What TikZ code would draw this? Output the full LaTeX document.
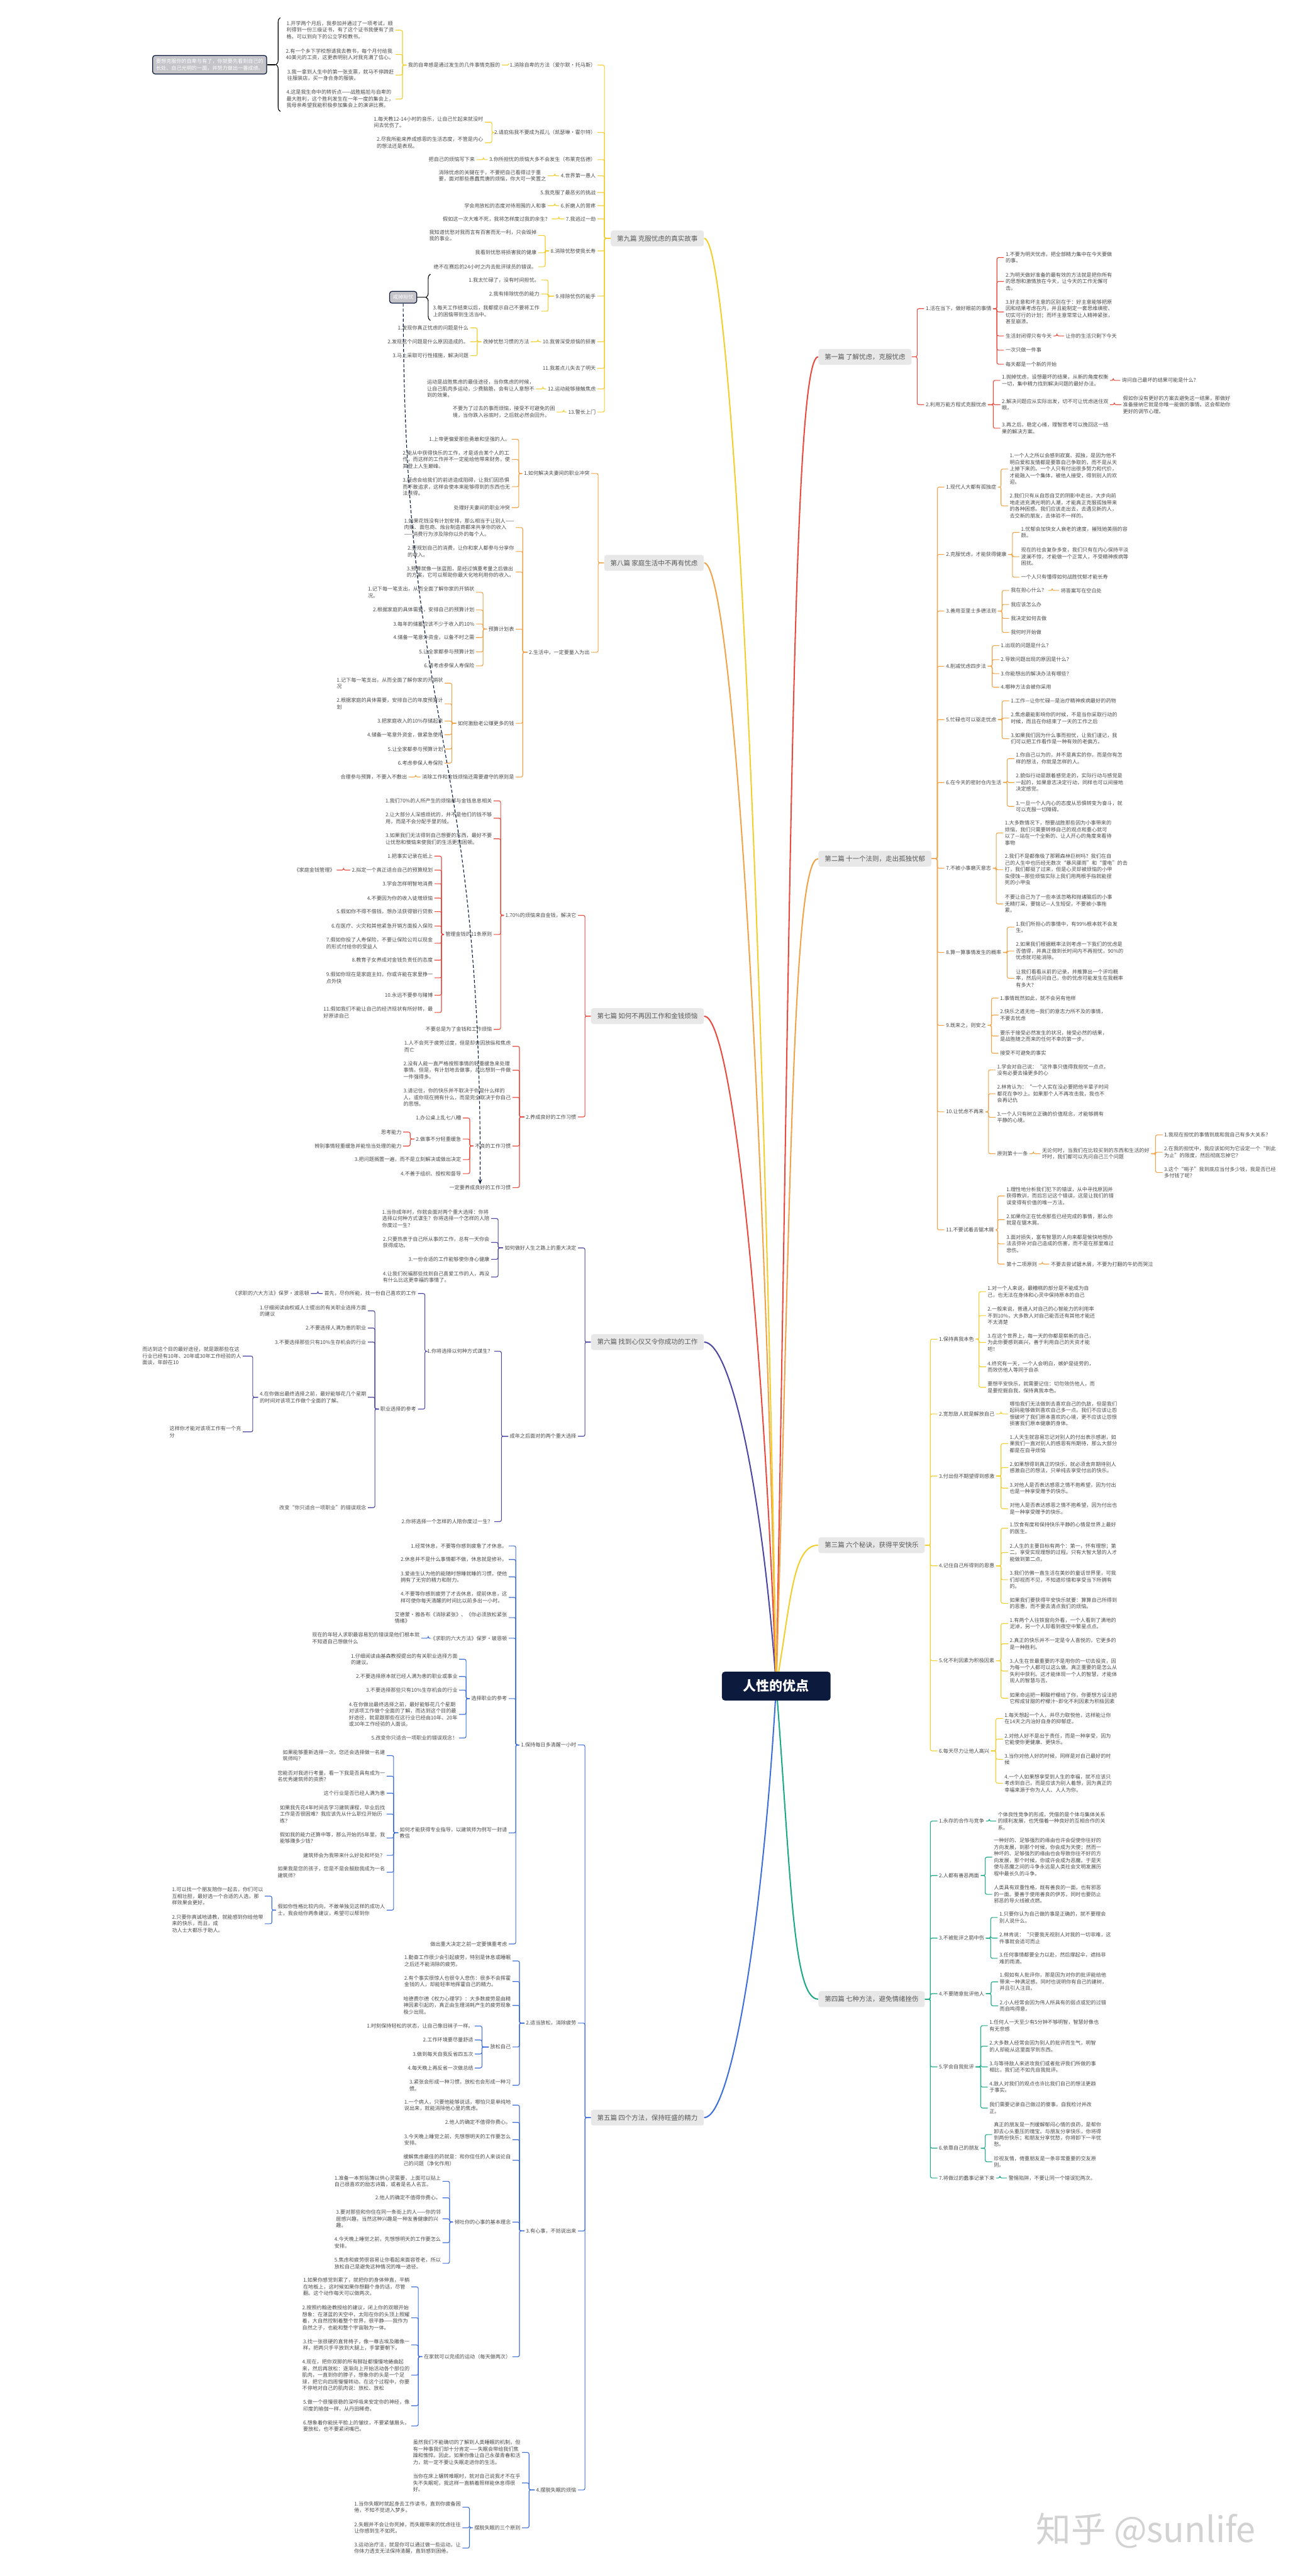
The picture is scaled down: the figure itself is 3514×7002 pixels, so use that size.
\documentclass[tikz,border=0pt]{standalone}
\usepackage{fontspec}
\newfontfamily\cjk{Noto Sans CJK SC}
\usetikzlibrary{arrows.meta,backgrounds,decorations.pathreplacing}

\definecolor{ink}{HTML}{4A4A4A}
\definecolor{partfill}{HTML}{E8E8E8}
\definecolor{parttext}{HTML}{595959}
\definecolor{rootfill}{HTML}{0C1A3E}
\definecolor{sumfill}{HTML}{C4C4C9}
\definecolor{wmgray}{HTML}{D2D2D2}
\definecolor{cred}{HTML}{E84B3F}
\definecolor{corange}{HTML}{F0A449}
\definecolor{cyellow}{HTML}{F2CE2E}
\definecolor{cteal}{HTML}{1DA887}
\definecolor{cblue}{HTML}{3F6FDB}
\definecolor{cindigo}{HTML}{4C47A2}

\tikzset{
  leaf/.style={align=left, text=ink, inner xsep=1.1pt, inner ysep=0.5pt,
    font=\cjk\fontsize{3.95pt}{5.1pt}\selectfont},
  lt/.style={leaf, anchor=east},
  rt/.style={leaf, anchor=west},
  part/.style={fill=partfill, text=parttext, rounded corners=1.8pt,
    inner xsep=4.8pt, minimum height=0.43cm,
    font=\cjk\fontsize{5.1pt}{6pt}\selectfont},
  root/.style={fill=rootfill, text=white, rounded corners=2.2pt,
    minimum width=2.95cm, minimum height=0.78cm,
    font=\cjk\bfseries\fontsize{10.2pt}{12pt}\selectfont},
  sumbox/.style={fill=sumfill, draw=rootfill, line width=0.6pt, text=white,
    rounded corners=1.8pt, align=left, inner xsep=2.6pt, inner ysep=2.7pt,
    font=\cjk\fontsize{3.95pt}{5.1pt}\selectfont},
  link/.style={line width=0.55pt, rounded corners=1.3pt},
  limb/.style={line width=1pt},
  sumbrace/.style={decorate, decoration={brace, amplitude=3.4pt}, line width=0.55pt},
  rel/.style={dash pattern=on 2.4pt off 1.5pt, line width=0.55pt, draw=rootfill,
    -{Stealth[length=4pt]}},
}

\begin{document}
\begin{tikzpicture}[x=0.01cm, y=-0.01cm]
  \useasboundingbox (0,0) rectangle (3514,7002);

  % root and the nine parts
  \node[root] (ctr) at (2110,4583) {人性的优点};
  \node[part, anchor=west] (p1) at (2224,970) {第一篇 了解忧虑，克服忧虑};
  \node[part, anchor=west] (p2) at (2224,2334) {第二篇 十一个法则，走出孤独忧郁};
  \node[part, anchor=west] (p3) at (2224,4200) {第三篇 六个秘诀，获得平安快乐};
  \node[part, anchor=west] (p4) at (2224,5434) {第四篇 七种方法，避免情绪挫伤};
  \node[part, anchor=east] (p5) at (1914,5756) {第五篇 四个方法，保持旺盛的精力};
  \node[part, anchor=east] (p6) at (1914,3648) {第六篇 找到心仪又令你成功的工作};
  \node[part, anchor=east] (p7) at (1914,2762) {第七篇 如何不再因工作和金钱烦恼};
  \node[part, anchor=east] (p8) at (1914,1530) {第八篇 家庭生活中不再有忧虑};
  \node[part, anchor=east] (p9) at (1914,648) {第九篇 克服忧虑的真实故事};

  % ---------------- 第一篇 ----------------
  \node[rt] (p1a) at (2512,839) {1.活在当下，做好眼前的事情};
  \node[rt] (p1b) at (2512,1100) {2.利用万能方程式克服忧虑};
  \node[rt] (p1a1) at (2729,700) {1.不要为明天忧虑，把全部精力集中在今天要做\\的事。};
  \node[rt] (p1a2) at (2729,765) {2.为明天做好准备的最有效的方法就是把你所有\\的思想和激情放在今天，让今天的工作无懈可\\击。};
  \node[rt] (p1a3) at (2729,848) {3.好主意和坏主意的区别在于：好主意能够把原\\因和结果考虑在内，并且能制定一套思维缜密、\\切实可行的计划；而坏主意常常让人精神紧张，\\甚至崩溃。};
  \node[rt] (p1a4) at (2729,913) {生活封闭得只有今天};
  \node[rt] (p1a4a) at (2892,913) {让你的生活只剩下今天};
  \node[rt] (p1a5) at (2729,952) {一次只做一件事};
  \node[rt] (p1a6) at (2729,990) {每天都是一个新的开始};
  \node[rt] (p1b1) at (2719,1034) {1.抛掉忧虑，设想最坏的结果，从新的角度权衡\\一切，集中精力找到解决问题的最好办法。};
  \node[rt] (p1b1a) at (3045,1034) {询问自己最坏的结果可能是什么？};
  \node[rt] (p1b2) at (2719,1100) {2.解决问题应从实际出发，切不可让忧虑迷住双\\眼。};
  \node[rt] (p1b2a) at (3048,1100) {假如你没有更好的方案去避免这一结果，那做好\\准备接纳它就是你唯一能做的事情。这会帮助你\\更好的调节心理。};
  \node[rt] (p1b3) at (2719,1164) {3.再之后，稳定心绪，理智思考可以挽回这一结\\果的解决方案。};

  % ---------------- 第二篇 ----------------
  \node[rt] (p2a) at (2567,1324) {1.现代人大都有孤独症};
  \node[rt] (p2b) at (2567,1507) {2.克服忧虑，才能获得健康};
  \node[rt] (p2c) at (2567,1661) {3.善用亚里士多德法则};
  \node[rt] (p2d) at (2567,1811) {4.削减忧虑四步法};
  \node[rt] (p2e) at (2567,1956) {5.忙碌也可以驱走忧虑};
  \node[rt] (p2f) at (2567,2127) {6.在今天的密封仓内生活};
  \node[rt] (p2g) at (2567,2360) {7.不被小事磨灭意志};
  \node[rt] (p2h) at (2567,2589) {8.算一算事情发生的概率};
  \node[rt] (p2i) at (2567,2787) {9.既来之，则安之};
  \node[rt] (p2j) at (2567,3022) {10.让忧虑不再来};
  \node[rt] (p2k) at (2567,3343) {11.不要试着去锯木屑};
  \node[rt] (p2a1) at (2740,1275) {1.一个人之所以会感到寂寞、孤独，是因为他不\\明白爱和友情都是要靠自己争取的，而不是从天\\上掉下来的。一个人只有付出很多努力和代价，\\才能融入一个集体，被他人接受，得到别人的欢\\迎。};
  \node[rt] (p2a2) at (2740,1375) {2.我们只有从自怨自艾的阴影中走出，大步向前\\地走进充满光明的人潮，才能真正克服孤独带来\\的各种困惑。我们应该走出去，去遇见新的人，\\去交新的朋友，去体验不一样的。};
  \node[rt] (p2b1) at (2771,1447) {1.忧郁会加快女人衰老的速度，摧残她美丽的容\\颜。};
  \node[rt] (p2b2) at (2771,1513) {现在的社会复杂多变，我们只有在内心保持平淡\\波澜不惊，才能做一个正常人，不受精神疾病等\\困扰。};
  \node[rt] (p2b3) at (2771,1569) {一个人只有懂得如何战胜忧郁才能长寿};
  \node[rt] (p2c1) at (2743,1605) {我在担心什么？};
  \node[rt] (p2c1a) at (2879,1605) {将答案写在空白处};
  \node[rt] (p2c2) at (2743,1643) {我应该怎么办};
  \node[rt] (p2c3) at (2743,1681) {我决定如何去做};
  \node[rt] (p2c4) at (2743,1719) {我何时开始做};
  \node[rt] (p2d1) at (2716,1755) {1.出现的问题是什么？};
  \node[rt] (p2d2) at (2716,1793) {2.导致问题出现的原因是什么？};
  \node[rt] (p2d3) at (2716,1831) {3.你能想出的解决办法有哪些？};
  \node[rt] (p2d4) at (2716,1868) {4.哪种方法会被你采用};
  \node[rt] (p2e1) at (2743,1905) {1.工作—让你忙碌—是治疗精神疾病最好的药物};
  \node[rt] (p2e2) at (2743,1952) {2.焦虑最能影响你的时候，不是当你采取行动的\\时候，而且在你结束了一天的工作之后};
  \node[rt] (p2e3) at (2743,2008) {3.如果我们因为什么事而担忧，让我们谨记，我\\们可以把工作看作是一种有效的老偏方。};
  \node[rt] (p2f1) at (2757,2062) {1.你自己以为的，并不是真实的你，而是你有怎\\样的想法，你就是怎样的人。};
  \node[rt] (p2f2) at (2757,2127) {2.貌似行动是跟着感觉走的，实际行动与感觉是\\一起的，如果意志决定行动，同样也可以间接地\\决定感觉。};
  \node[rt] (p2f3) at (2757,2192) {3.一旦一个人内心的态度从恐惧转变为奋斗，就\\可以克服一切障碍。};
  \node[rt] (p2g1) at (2727,2264) {1.大多数情况下，想要战胜那些因为小事带来的\\烦恼，我们只需要转移自己的观点和重心就可\\以了—站在一个全新的、让人开心的角度来看待\\事物};
  \node[rt] (p2g2) at (2727,2364) {2.我们不是都像极了那颗森林巨树吗？我们在自\\己的人生中也历经无数次“暴风骤雨”和“雷电”的击\\打，我们都挺了过来，但是心灵却被烦恼的小甲\\虫侵蚀—那些烦恼实际上我们用两根手指就能捏\\死的小甲虫};
  \node[rt] (p2g3) at (2727,2457) {不要让自己为了一些本该忽略和抛诸脑后的小事\\无精打采，要铭记—人生短促，不要被小事拖\\累。};
  \node[rt] (p2h1) at (2757,2520) {1.我们所担心的事情中，有99\%根本就不会发\\生。};
  \node[rt] (p2h2) at (2757,2585) {2.如果我们根据概率法则考虑一下我们的忧虑是\\否值得，并真正做到长时间内不再担忧，90\%的\\忧虑就可能消除。};
  \node[rt] (p2h3) at (2757,2659) {让我们看看从前的记录，并推算出一个评均概\\率，然后问问自己，你的忧虑可能发生在我概率\\有多大？};
  \node[rt] (p2i1) at (2714,2713) {1.事情既然如此，就不会另有他样};
  \node[rt] (p2i2) at (2714,2759) {2.快乐之道无他—我们的意志力所不及的事情，\\不要去忧虑};
  \node[rt] (p2i3) at (2714,2816) {要乐于接受必然发生的状况，接受必然的结果，\\是战胜随之而来的任何不幸的第一步。};
  \node[rt] (p2i4) at (2714,2863) {接受不可避免的事实};
  \node[rt] (p2j1) at (2706,2908) {1.学会对自己说：“这件事只值得我担忧一点点，\\没有必要去操更多的心};
  \node[rt] (p2j2) at (2706,2973) {2.林肯认为：“一个人实在没必要把他半辈子时间\\都花在争吵上。如果那个人不再攻击我，我也不\\会再记仇};
  \node[rt] (p2j3) at (2706,3037) {3.一个人只有树立正确的价值观念，才能够拥有\\平静的心境。};
  \node[rt] (p2j4) at (2706,3136) {原则第十一条};
  \node[rt] (p2j4a) at (2828,3136) {无论何时，当我们在比较买到的东西和生活的好\\坏时，我们都可以先问自己三个问题};
  \node[rt] (p2j4a1) at (3160,3085) {1.我现在担忧的事情到底和我自己有多大关系？};
  \node[rt] (p2j4a2) at (3160,3132) {2.在我的担忧中，我应该如何为它设定一个“到此\\为止”的限度，然后彻底忘掉它？};
  \node[rt] (p2j4a3) at (3160,3187) {3.这个“哨子”我到底应当付多少钱，我是否已经\\多付钱了呢？};
  \node[rt] (p2k1) at (2731,3251) {1.理性地分析我们犯下的错误，从中寻找原因并\\获得教训，而后忘记这个错误，这是让我们的错\\误变得有价值的唯一方法。};
  \node[rt] (p2k2) at (2731,3315) {2.如果你正在忧虑那些已经完成的事情，那么你\\就是在锯木屑。};
  \node[rt] (p2k3) at (2731,3381) {3.面对损失，富有智慧的人向来都是愉快地想办\\法去弥补对自己造成的伤害，而不是在那里难过\\悲伤。};
  \node[rt] (p2k4) at (2731,3436) {第十二项原则};
  \node[rt] (p2k4a) at (2852,3436) {不要去尝试锯木屑，不要为打翻的牛奶而哭泣};

  % ---------------- 第三篇 ----------------
  \node[rt] (p3a) at (2548,3640) {1.保持真我本色};
  \node[rt] (p3b) at (2548,3843) {2.宽恕敌人就是解放自己};
  \node[rt] (p3c) at (2548,4012) {3.付出但不期望得到感激};
  \node[rt] (p3d) at (2548,4256) {4.记住自己所得到的恩惠};
  \node[rt] (p3e) at (2548,4514) {5.化不利因素为积极因素};
  \node[rt] (p3f) at (2548,4759) {6.每天尽力让他人高兴};
  \node[rt] (p3a1) at (2680,3511) {1.对一个人来说，最糟糕的部分是不能成为自\\己，也无法在身体和心灵中保持原本的自己};
  \node[rt] (p3a2) at (2680,3576) {2.一般来说，普通人对自己的心智能力的利用率\\不到10\%，大多数人对自己能否还有其他才能还\\不太清楚};
  \node[rt] (p3a3) at (2680,3649) {3.在这个世界上，每一天的你都是崭新的自己，\\为此你要感到高兴，善于利用自己的天资才能\\吧！};
  \node[rt] (p3a4) at (2680,3715) {4.终究有一天，一个人会明白，嫉妒是徒劳的，\\而效仿他人等同于自杀};
  \node[rt] (p3a5) at (2680,3771) {要想平安快乐，就需要记住：切勿效仿他人，而\\是要挖掘自我，保持真我本色。};
  \node[rt] (p3b1) at (2740,3843) {哪怕我们无法做到去喜欢自己的仇敌，但是我们\\起码能够做到喜欢自己多一点。我们不应该让怨\\恨破坏了我们原本喜欢的心境，更不应该让怨恨\\损害我们原本健康的身体。};
  \node[rt] (p3c1) at (2740,3924) {1.人天生就容易忘记对别人的付出表示感谢，如\\果我们一直对别人的感恩有所期待，那么大部分\\都是在自寻烦恼};
  \node[rt] (p3c2) at (2740,3989) {2.如果想得到真正的快乐，就必须舍弃期待别人\\感激自己的想法，只单纯去享受付出的快乐。};
  \node[rt] (p3c3) at (2740,4045) {3.对他人是否表达感恩之情不抱希望，因为付出\\也是一种享受赠予的快乐。};
  \node[rt] (p3c4) at (2740,4101) {对他人是否表达感恩之情不抱希望，因为付出也\\是一种享受赠予的快乐。};
  \node[rt] (p3d1) at (2740,4154) {1.饮食有度和保持快乐平静的心情是世界上最好\\的医生。};
  \node[rt] (p3d2) at (2740,4220) {2.人生的主要目标有两个：第一，怀有理想；第\\二，享受实现理想的过程。只有大智大慧的人才\\能做到第二点。};
  \node[rt] (p3d3) at (2740,4294) {3.我们仿佛一直生活在美妙的童话世界里，可我\\们却视而不见，不知道珍惜和享受当下所拥有\\的。};
  \node[rt] (p3d4) at (2740,4358) {如果我们要获得平安快乐就要：算算自己所得到\\的恩惠，而不要去清点我们的烦恼。};
  \node[rt] (p3e1) at (2740,4413) {1.有两个人往铁窗向外看，一个人看到了满地的\\泥淖，另一个人却看到夜空中繁星点点。};
  \node[rt] (p3e2) at (2740,4468) {2.真正的快乐并不一定是令人喜悦的，它更多的\\是一种胜利。};
  \node[rt] (p3e3) at (2740,4542) {3.人生在世最重要的不是用你的一切去投资，因\\为每一个人都可以这么做。真正重要的是怎么从\\失利中获利。这才能体现一个人的智慧，才能体\\现人的智慧与否。};
  \node[rt] (p3e4) at (2740,4616) {如果命运把一颗酸柠檬给了你，你要想方设法把\\它榨成甘甜的柠檬汁\textasciitilde 即化不利因素为积极因素};
  \node[rt] (p3f1) at (2726,4671) {1.每天想起一个人，并尽力取悦他，这样能让你\\在14天之内治好自身的抑郁症。};
  \node[rt] (p3f2) at (2726,4727) {2.对他人好不是出于责任，而是一种享受，因为\\它能使你更健康、更快乐。};
  \node[rt] (p3f3) at (2726,4782) {3.当你对他人好的时候，同样是对自己最好的时\\候};
  \node[rt] (p3f4) at (2726,4847) {4.一个人如果想享受到人生的幸福，就不应该只\\考虑到自己，而是应该为别人着想，因为真正的\\幸福来源于你为人人、人人为你。};

  % ---------------- 第四篇 ----------------
  \node[rt] (p4a) at (2548,4950) {1.永存的合作与竞争};
  \node[rt] (p4b) at (2548,5098) {2.人都有善恶两面};
  \node[rt] (p4c) at (2548,5268) {3.不被批评之箭中伤};
  \node[rt] (p4d) at (2548,5419) {4.不要随意批评他人};
  \node[rt] (p4e) at (2548,5618) {5.学会自我批评};
  \node[rt] (p4f) at (2548,5839) {6.依靠自己的朋友};
  \node[rt] (p4g) at (2548,5920) {7.将做过的蠢事记录下来};
  \node[rt] (p4a1) at (2708,4950) {个体良性竞争的形成，凭借的是个体与集体关系\\的顺利发展，也凭借着一种良好的互相合作的关\\系。};
  \node[rt] (p4b1) at (2697,5048) {一种好的、足够强烈的缘由也许会促使你往好的\\方向发展，到那个时候，你会成为天使；然而一\\种坏的、足够强烈的缘由也会导致你往不好的方\\向发展，那个时候，你或许会成为恶魔。于是天\\使与恶魔之间的斗争永远是人类社会文明发展历\\程中最长久的斗争。};
  \node[rt] (p4b2) at (2697,5149) {人类具有双重性格，既有善良的一面，也有邪恶\\的一面。要善于使用善良的伊苏，同时也要防止\\邪恶的导火线被点燃。};
  \node[rt] (p4c1) at (2712,5212) {1.只要你认为自己做的事是正确的，就不要理会\\别人说什么。};
  \node[rt] (p4c2) at (2712,5268) {2.林肯说：“只要我无视别人对我的一切非难，这\\件事就会适可而止};
  \node[rt] (p4c3) at (2712,5323) {3.任何事情都要全力以赴，然后撑起伞，遮挡非\\难的雨滴。};
  \node[rt] (p4d1) at (2713,5387) {1.假如有人批评你，那是因为对你的批评能给他\\带来一种满足感。同时也说明你有自己的建树，\\并且引人注目。};
  \node[rt] (p4d2) at (2713,5452) {2.小人经常会因为伟人所具有的弱点或犯的过错\\而自鸣得意。};
  \node[rt] (p4e1) at (2685,5506) {1.任何人一天至少有5分钟不够明智，智慧好像也\\有无奈感};
  \node[rt] (p4e2) at (2685,5562) {2.大多数人经常会因为别人的批评而生气，明智\\的人却能从这里面学到东西。};
  \node[rt] (p4e3) at (2685,5618) {3.与等待敌人来进攻我们或者批评我们所做的事\\相比，我们还不如先自我批评。};
  \node[rt] (p4e4) at (2685,5673) {4.敌人对我们的观点也许比我们自己的想法更趋\\于事实。};
  \node[rt] (p4e5) at (2685,5730) {我们需要记录自己做过的傻事，自我检讨并改\\正。};
  \node[rt] (p4f1) at (2697,5802) {真正的朋友是一剂缓解郁闷心情的良药，是帮你\\卸去心头重压的瑰宝。与朋友分享快乐，你将得\\到两份快乐；和朋友分享忧愁，你将卸下一半忧\\愁。};
  \node[rt] (p4f2) at (2697,5876) {珍视友情，倚重朋友是一条非常重要的交友原\\则。};
  \node[rt] (p4g1) at (2737,5920) {警惕陷阱，不要让同一个错误犯两次。};

  % ---------------- 第五篇 ----------------
  \node[lt] (p5a) at (1571,4743) {1.保持每日多清醒一小时};
  \node[lt] (p5b) at (1571,5499) {2.适当放松，消除疲劳};
  \node[lt] (p5c) at (1571,6064) {3.有心事，不妨说出来};
  \node[lt] (p5d) at (1571,6768) {4.摆脱失眠的烦恼};
  \node[lt] (p5a1) at (1383,4202) {1.经常休息，不要等你感到疲惫了才休息。};
  \node[lt] (p5a2) at (1383,4239) {2.休息并不是什么事情都不做，休息就是修补。};
  \node[lt] (p5a3) at (1383,4286) {3.爱迪生认为他的能随时想睡就睡的习惯，使他\\拥有了无穷的精力和耐力。};
  \node[lt] (p5a4) at (1383,4342) {4.不要等你感到疲劳了才去休息，提前休息，这\\样可使你每天清醒的时间比以前多出一小时。};
  \node[lt] (p5a5) at (1383,4397) {艾德蒙·雅各布《消除紧张》、《你必须放松紧张\\情绪》};
  \node[lt] (p5a6) at (1383,4453) {《求职的六大方法》保罗·玻恩顿};
  \node[lt] (p5a6a) at (1145,4453) {现在的年轻人求职最容易犯的错误是他们根本就\\不知道自己想做什么};
  \node[lt] (p5a7) at (1383,4617) {选择职业的参考};
  \node[lt] (p5a7a) at (1248,4510) {1.仔细阅读由基森教授提出的有关职业选择方面\\的建议。};
  \node[lt] (p5a7b) at (1248,4557) {2.不要选择原本就已经人满为患的职业或事业};
  \node[lt] (p5a7c) at (1248,4594) {3.不要选择那些只有10\%生存机会的行业};
  \node[lt] (p5a7d) at (1248,4660) {4.在你做出最终选择之前，最好能够花几个星期\\对该项工作做个全面的了解，而达到这个目的最\\好途径，就是跟那些在这行业已经由10年、20年\\或30年工作经验的人面谈。};
  \node[lt] (p5a7e) at (1248,4724) {5.改变你只适合一项职业的错误观念！};
  \node[lt] (p5a8) at (1383,4982) {如何才能获得专业指导，以建筑师为例写一封请\\教信};
  \node[lt] (p5a8a) at (1051,4772) {如果能够重新选择一次，您还会选择做一名建\\筑师吗？};
  \node[lt] (p5a8b) at (1051,4828) {您能否对我进行考量，看一下我是否具有成为一\\名优秀建筑师的资质？};
  \node[lt] (p5a8c) at (1051,4874) {这个行业是否已经人满为患};
  \node[lt] (p5a8d) at (1051,4931) {如果我先花4年时间去学习建筑课程，毕业后找\\工作是否很困难？我应该先从什么职位开始历\\练？};
  \node[lt] (p5a8e) at (1051,4996) {假如我的能力还算中等，那么开始的5年里，我\\能够赚多少钱？};
  \node[lt] (p5a8f) at (1051,5043) {建筑师会为我带来什么好处和坏处？};
  \node[lt] (p5a8g) at (1051,5089) {如果我是您的孩子，您是不是会鼓励我成为一名\\建筑师？};
  \node[lt] (p5a8h) at (1051,5192) {假如你性格比较内向，不敢单独见这样的成功人\\士，我会给你两条建议，希望可以帮到你};
  \node[lt] (p5a8h1) at (720,5154) {1.可以找一个朋友陪你一起去，你们可以\\互相壮胆，最好选一个合适的人选，那\\样效果会更好。};
  \node[lt] (p5a8h2) at (720,5229) {2.只要你真诚地请教，就能感到你给他带\\来的快乐，而且，成\\功人士大都乐于助人。};
  \node[lt] (p5a9) at (1383,5284) {做出重大决定之前一定要慎重考虑};
  \node[lt] (p5b1) at (1393,5330) {1.勤奋工作很少会引起疲劳，特别是休息或睡眠\\之后还不能消除的疲劳。};
  \node[lt] (p5b2) at (1393,5386) {2.有个事实很惊人也很令人悲伤：很多不会挥霍\\金钱的人，却能轻率地挥霍自己的精力。};
  \node[lt] (p5b3) at (1393,5451) {哈德费尔德《权力心理学》：大多数疲劳是由精\\神因素引起的，真正由生理消耗产生的疲劳现象\\极少出现。};
  \node[lt] (p5b4) at (1393,5564) {放松自己};
  \node[lt] (p5b4a) at (1291,5507) {1.时刻保持轻松的状态，让自己像旧袜子一样。};
  \node[lt] (p5b4b) at (1291,5545) {2.工作环境要尽量舒适};
  \node[lt] (p5b4c) at (1291,5583) {3.做到每天自我反省四五次};
  \node[lt] (p5b4d) at (1291,5621) {4.每天晚上再反省一次做总结};
  \node[lt] (p5b5) at (1393,5668) {3.紧张会形成一种习惯，放松也会形成一种习\\惯。};
  \node[lt] (p5c1) at (1393,5722) {1.一个病人，只要他能够说话，哪怕只是单纯地\\说出来，就能消除他心里的焦虑。};
  \node[lt] (p5c2) at (1393,5769) {2.他人的确定不值得你费心。};
  \node[lt] (p5c3) at (1393,5816) {3.今天晚上睡觉之前，先想想明天的工作要怎么\\安排。};
  \node[lt] (p5c4) at (1393,5872) {缓解焦虑最佳的药就是：和你信任的人来谈论自\\己的问题（净化作用）};
  \node[lt] (p5c5) at (1393,6040) {倾吐你的心事的基本理念};
  \node[lt] (p5c5a) at (1203,5929) {1.准备一本剪贴簿以供心灵需要，上面可以贴上\\自己很喜欢的励志诗篇，或者是名人名言。};
  \node[lt] (p5c5b) at (1203,5974) {2.他人的确定不值得你费心。};
  \node[lt] (p5c5c) at (1203,6031) {3.要对那些和你住在同一条街上的人——你的邻\\居感兴趣，当然这种兴趣是一种友善健康的兴\\趣。};
  \node[lt] (p5c5d) at (1203,6096) {4.今天晚上睡觉之前，先想想明天的工作要怎么\\安排。};
  \node[lt] (p5c5e) at (1203,6152) {5.焦虑和疲劳很容易让你看起来面容苍老，所以\\放松自己是避免这种情况的唯一途径。};
  \node[lt] (p5c6) at (1393,6406) {在家就可以完成的运动（每天做两次）};
  \node[lt] (p5c6a) at (1118,6216) {1.如果你感觉到累了，就把你的身体伸直，平躺\\在地板上，这时候如果你想翻个身的话，尽管\\翻。这个动作每天可以做两次。};
  \node[lt] (p5c6b) at (1118,6300) {2.按照约翰逊教授给的建议，闭上你的双眼开始\\想象：在湛蓝的天空中，太阳在你的头顶上照耀\\着，大自然控制着整个世界，很平静——我作为\\自然之子，也能和整个宇宙融为一体。};
  \node[lt] (p5c6c) at (1118,6374) {3.找一张很硬的直背椅子，像一尊古埃及雕像一\\样，把两只手平放到大腿上，手掌要朝下。};
  \node[lt] (p5c6d) at (1118,6456) {4.现在，把你双脚的所有脚趾都慢慢地蜷曲起\\来，然后再放松：逐渐向上开始活动各个部位的\\肌肉，一直到你的脖子，想象你的头是一个足\\球，把它向四周慢慢转动。在这个过程中，你要\\不停地对自己的肌肉说：放松、放松};
  \node[lt] (p5c6e) at (1118,6539) {5.做一个很慢很稳的深呼吸来安定你的神经，像\\印度的瑜伽一样，从丹田稀奇。};
  \node[lt] (p5c6f) at (1118,6594) {6.想象着你能抚平脸上的皱纹，不要紧皱眉头，\\要放松，也不要紧闭嘴巴。};
  \node[lt] (p5d1) at (1419,6666) {虽然我们不能确切的了解到人类睡眠的机制，但\\有一种事我们却十分肯定——失眠会带给我们焦\\躁和憔悴。因此，如果你像让自己永葆青春和活\\力，就一定不要让失眠走进你的生活。};
  \node[lt] (p5d2) at (1419,6749) {当你在床上辗转难眠时，就对自己说我才不在乎\\失不失眠呢，我这样一直躺着照样能休息得很\\好。};
  \node[lt] (p5d3) at (1419,6871) {摆脱失眠的三个原则};
  \node[lt] (p5d3a) at (1257,6815) {1.当你失眠时就起身去工作读书，直到你疲备困\\倦，不知不觉进入梦乡。};
  \node[lt] (p5d3b) at (1257,6871) {2.失眠并不会让你死掉，而失眠带来的忧虑往往\\让你感到生不如死。};
  \node[lt] (p5d3c) at (1257,6926) {3.运动治疗法，就是你可以通过做一些运动，让\\你体力透支无法保持清醒，直到感到困倦。};

  % ---------------- 第六篇 ----------------
  \node[lt] (p6a) at (1571,3392) {如何做好人生之路上的重大决定};
  \node[lt] (p6b) at (1571,3904) {成年之后面对的两个重大选择};
  \node[lt] (p6a1) at (1335,3312) {1.当你成年时，你就会面对两个重大选择：你将\\选择以何种方式谋生？你将选择一个怎样的人陪\\你度过一生？};
  \node[lt] (p6a2) at (1335,3377) {2.只要热衷于自己所从事的工作，总有一天你会\\获得成功。};
  \node[lt] (p6a3) at (1335,3423) {3.一份合适的工作能够使你身心健康};
  \node[lt] (p6a4) at (1335,3471) {4.让我们祝福那些找到自己喜爱工作的人，再没\\有什么比这更幸福的事情了。};
  \node[lt] (p6b1) at (1344,3673) {1.你将选择以何种方式谋生？};
  \node[lt] (p6b2) at (1344,4136) {2.你将选择一个怎样的人陪你度过一生？};
  \node[lt] (p6b1a) at (1136,3516) {首先，尽你所能，找一份自己喜欢的工作};
  \node[lt] (p6b1a1) at (845,3516) {《求职的六大方法》保罗·波恩顿};
  \node[lt] (p6b1b) at (1136,3830) {职业选择的参考};
  \node[lt] (p6b1b1) at (1000,3563) {1.仔细阅读由权威人士提出的有关职业选择方面\\的建议};
  \node[lt] (p6b1b2) at (1000,3610) {2.不要选择人满为患的职业};
  \node[lt] (p6b1b3) at (1000,3648) {3.不要选择那些只有10\%生存机会的行业};
  \node[lt] (p6b1b4) at (1000,3798) {4.在你做出最终选择之前，最好能够花几个星期\\的时间对该项工作做个全面的了解。};
  \node[lt] (p6b1b4a) at (660,3686) {而达到这个目的最好途径，就是跟那些在这\\行业已经有10年、20年或30年工作经验的人\\面谈，年龄在10};
  \node[lt] (p6b1b4b) at (660,3892) {这样你才能对该项工作有一个充\\分};
  \node[lt] (p6b1b5) at (1000,4098) {改变“你只适合一项职业”的错误观念};

  % ---------------- 第七篇 ----------------
  \node[lt] (p7a) at (1571,2488) {1.70\%的烦恼来自金钱，解决它};
  \node[lt] (p7b) at (1571,3036) {2.养成良好的工作习惯};
  \node[lt] (p7a1) at (1342,2177) {1.我们70\%的人所产生的烦恼都与金钱息息相关};
  \node[lt] (p7a2) at (1342,2224) {2.让大部分人深感烦扰的，并不是他们的钱不够\\用，而是不会分配手里的钱。};
  \node[lt] (p7a3) at (1342,2280) {3.如果我们无法得到自己想要的东西，最好不要\\让忧愁和懊恼来使我们的生活更加困顿。};
  \node[lt] (p7a4) at (1342,2540) {管理金钱的11条原则};
  \node[lt] (p7a5) at (1342,2798) {不要总是为了金钱和工作烦恼};
  \node[lt] (p7a4a) at (1181,2327) {1.把事实记录在纸上};
  \node[lt] (p7a4b) at (1181,2365) {2.拟定一个真正适合自己的预算规划};
  \node[lt] (p7a4b1) at (915,2365) {《家庭金钱管理》};
  \node[lt] (p7a4c) at (1181,2402) {3.学会怎样明智地消费};
  \node[lt] (p7a4d) at (1181,2441) {4.不要因为你的收入徒增烦恼};
  \node[lt] (p7a4e) at (1181,2478) {5.假如你不得不借钱，想办法获得银行贷款};
  \node[lt] (p7a4f) at (1181,2517) {6.在医疗、火灾和其他紧急开销方面投入保险};
  \node[lt] (p7a4g) at (1181,2564) {7.假如你投了人寿保险，不要让保险公司以现金\\的形式付给你的受益人};
  \node[lt] (p7a4h) at (1181,2610) {8.教育子女养成对金钱负责任的态度};
  \node[lt] (p7a4i) at (1181,2658) {9.假如你现在是家庭主妇，你或许能在家里挣一\\点外快};
  \node[lt] (p7a4j) at (1181,2705) {10.永远不要参与赌博};
  \node[lt] (p7a4k) at (1181,2752) {11.假如我们不能让自己的经济现状有所好转，最\\好原谅自己};
  \node[lt] (p7b1) at (1393,2844) {1.人不会死于疲劳过度，但是却会因放纵和焦虑\\而亡};
  \node[lt] (p7b2) at (1393,2909) {2.没有人能一直严格按照事情的轻重缓急来处理\\事情。但是，有计划地去做事，总比想到一件做\\一件强得多。};
  \node[lt] (p7b3) at (1393,2983) {3.请记住，你的快乐并不取决于你是什么样的\\人，或你现在拥有什么，而是完全取决于你自己\\的思想。};
  \node[lt] (p7b4) at (1393,3115) {不良的工作习惯};
  \node[lt] (p7b5) at (1393,3228) {一定要养成良好的工作习惯};
  \node[lt] (p7b4a) at (1258,3039) {1.办公桌上乱七八糟};
  \node[lt] (p7b4b) at (1258,3096) {2.做事不分轻重缓急};
  \node[lt] (p7b4b1) at (1096,3077) {思考能力};
  \node[lt] (p7b4b2) at (1096,3115) {辨别事情轻重缓急并能恰当处理的能力};
  \node[lt] (p7b4c) at (1258,3152) {3.把问题搁置一遍，而不是立刻解决或做出决定};
  \node[lt] (p7b4d) at (1258,3190) {4.不善于组织、授权和督导};

  % ---------------- 第八篇 ----------------
  \node[lt] (p8a) at (1607,1287) {1.如何解决夫妻间的职业冲突};
  \node[lt] (p8b) at (1607,1773) {2.生活中，一定要量入为出};
  \node[lt] (p8a1) at (1391,1194) {1.上帝更偏爱那些勇敢和坚强的人。};
  \node[lt] (p8a2) at (1391,1249) {2.能从中获得快乐的工作，才是适合某个人的工\\作，而这样的工作并不一定能给他带来财务，使\\其登上人生巅峰。};
  \node[lt] (p8a3) at (1391,1323) {3.疑虑会给我们的前进造成阻碍，让我们因恐惧\\而不敢追求，这样会使本来能够得到的东西也无\\法获得。};
  \node[lt] (p8a4) at (1391,1380) {处理好夫妻间的职业冲突};
  \node[lt] (p8b1) at (1402,1434) {1.如果花钱没有计划安排，那么相当于让别人——\\肉贩、面包商、烛台制造商都来共享你的收入\\——消费行为涉及除你以外的每个人。};
  \node[lt] (p8b2) at (1402,1499) {2.要规划自己的消费，让你和家人都参与分享你\\的收入。};
  \node[lt] (p8b3) at (1402,1555) {3.预算就像一张蓝图，是经过慎重考量之后做出\\的方案，它可以帮助你最大化地利用你的收入。};
  \node[lt] (p8b4) at (1402,1710) {预算计划表};
  \node[lt] (p8b5) at (1402,1966) {如何激励老公赚更多的钱};
  \node[lt] (p8b6) at (1402,2112) {消除工作和金钱烦恼还需要遵守的原则是};
  \node[lt] (p8b4a) at (1294,1610) {1.记下每一笔支出，从而全面了解你家的开销状\\况。};
  \node[lt] (p8b4b) at (1294,1658) {2.根据家庭的具体需要，安排自己的预算计划};
  \node[lt] (p8b4c) at (1294,1696) {3.每年的储蓄应该不少于收入的10\%};
  \node[lt] (p8b4d) at (1294,1733) {4.储备一笔意外资金，以备不时之需};
  \node[lt] (p8b4e) at (1294,1772) {5.让全家都参与预算计划};
  \node[lt] (p8b4f) at (1294,1810) {6.请考虑参保人寿保险};
  \node[lt] (p8b5a) at (1209,1857) {1.记下每一笔支出，从而全面了解你家的开销状\\况};
  \node[lt] (p8b5b) at (1209,1913) {2.根据家庭的具体需要，安排自己的年度预算计\\划};
  \node[lt] (p8b5c) at (1209,1960) {3.把家庭收入的10\%存储起来};
  \node[lt] (p8b5d) at (1209,1997) {4.储备一笔意外资金，做紧急使用};
  \node[lt] (p8b5e) at (1209,2036) {5.让全家都参与预算计划};
  \node[lt] (p8b5f) at (1209,2074) {6.考虑参保人寿保险};
  \node[lt] (p8b6a) at (1111,2112) {合理参与预算，不要入不敷出};

  % ---------------- 第九篇 ----------------
  \node[lt] (p9a) at (1624,177) {1.消除自卑的方法（爱尔默·托马斯）};
  \node[lt] (p9b) at (1624,360) {2.请庇佑我不要成为孤儿（凯瑟琳·霍尔特）};
  \node[lt] (p9c) at (1624,434) {3.你所担忧的烦恼大多不会发生（布莱克伍德）};
  \node[lt] (p9d) at (1624,478) {4.世界第一愚人};
  \node[lt] (p9e) at (1624,523) {5.我克服了最恶劣的挑战};
  \node[lt] (p9f) at (1624,559) {6.折磨人的胃疼};
  \node[lt] (p9g) at (1624,595) {7.我逃过一劫};
  \node[lt] (p9h) at (1624,682) {8.消除忧愁使我长寿};
  \node[lt] (p9i) at (1624,805) {9.排除忧伤的能手};
  \node[lt] (p9j) at (1624,929) {10.我曾深受烦恼的损害};
  \node[lt] (p9k) at (1624,1001) {11.我差点儿失去了明天};
  \node[lt] (p9l) at (1624,1057) {12.运动能够接触焦虑};
  \node[lt] (p9m) at (1624,1120) {13.警长上门};
  \node[lt] (p9a1) at (1364,177) {我的自卑感是通过发生的几件事情克服的};
  \node[lt] (p9a1a) at (1075,82) {1.开学两个月后，我参加并通过了一项考试，顺\\利得到一份三级证书，有了这个证书我便有了资\\格，可以到向下的公立学校教书。};
  \node[lt] (p9a1b) at (1075,148) {2.有一个乡下学校想请我去教书，每个月付给我\\40美元的工资，这更表明别人对我充满了信心。};
  \node[lt] (p9a1c) at (1075,204) {3.我一拿到人生中的第一张支票，就马不停蹄赶\\往服装店，买一身合身的服装。};
  \node[lt] (p9a1d) at (1075,269) {4.这是我生命中的转折点——战胜尴尬与自卑的\\最大胜利，这个胜利发生在一年一度的集会上，\\我母亲希望我能积极参加集会上的演讲比赛。};
  \node[lt] (p9b1) at (1318,332) {1.每天教12-14小时的音乐，让自己忙起来就没时\\间去忧伤了。};
  \node[lt] (p9b2) at (1318,388) {2.尽我所能来养成感恩的生活态度，不管是内心\\的想法还是表现。};
  \node[lt] (p9c1) at (1295,434) {把自己的烦恼写下来};
  \node[lt] (p9d1) at (1489,478) {消除忧虑的关键在于，不要把自己看得过于重\\要，面对那些愚蠢荒唐的烦恼，你大可一笑置之};
  \node[lt] (p9f1) at (1489,559) {学会用放松的态度对待周围的人和事};
  \node[lt] (p9g1) at (1500,595) {假如这一次大难不死，我将怎样度过我的余生？};
  \node[lt] (p9h1) at (1463,640) {我知道忧愁对我而言有百害而无一利，只会毁掉\\我的事业。};
  \node[lt] (p9h2) at (1463,687) {我看到忧愁将损害我的健康};
  \node[lt] (p9h3) at (1463,725) {绝不在赛后的24小时之内去批评球员的错误。};
  \node[lt] (p9i1) at (1471,761) {1.我太忙碌了，没有时间担忧。};
  \node[lt] (p9i2) at (1471,799) {2.我有排除忧伤的能力};
  \node[lt] (p9i3) at (1471,846) {3.每天工作结束以后，我都提示自己不要将工作\\上的困恼带到生活当中。};
  \node[lt] (p9j1) at (1443,929) {改掉忧愁习惯的方法};
  \node[lt] (p9j1a) at (1278,891) {1.发现你真正忧虑的问题是什么};
  \node[lt] (p9j1b) at (1278,929) {2.发现这个问题是什么原因造成的。};
  \node[lt] (p9j1c) at (1278,967) {3.马上采取可行性措施，解决问题};
  \node[lt] (p9l1) at (1457,1057) {运动是战胜焦虑的最佳途径，当你焦虑的时候，\\让自己肌肉多运动，少费脑筋，会有让人意想不\\到的效果。};
  \node[lt] (p9m1) at (1513,1120) {不要为了过去的事而烦恼，接受不可避免的困\\境，当你跌入谷底时，之后就必然会回升。};

  % summaries
  \node[sumbox] (sum1) at (570,176) {要想克服你的自卑与有了，你就要先看到自己的\\长处、自己光明的一面，并努力做出一番成绩。};
  \node[sumbox] (sum2) at (1096,808) {戒掉担忧};
  \coordinate (b1top) at (762,48);
  \coordinate (b1bot) at (762,303);
  \coordinate (b1tip) at (749,176);
  \coordinate (b2top) at (1170,745);
  \coordinate (b2bot) at (1170,871);
  \coordinate (b2tip) at (1157,808);
  \draw[sumbrace] (b1bot) -- (b1top);
  \draw[sumbrace] (b2bot) -- (b2top);
  \draw[line width=0.55pt] (sum1.east) -- (b1tip);
  \draw[line width=0.55pt] (sum2.east) -- (b2tip);

  % watermark
  \node[text=wmgray, font=\cjk\fontsize{27pt}{31pt}\selectfont] (wm) at (3115,6878) {知乎 @sunlife};

  % ---------------- connectors, right side ----------------
  \foreach \c in {p1a,p1b} \draw[link,cred] (\c.west) -- ++(-19,0) |- (p1.east);
  \foreach \c in {p1a1,p1a2,p1a3,p1a4,p1a5,p1a6} \draw[link,cred] (\c.west) -- ++(-19,0) |- (p1a.east);
  \draw[link,cred] (p1a4a.west) -- ++(-19,0) |- (p1a4.east);
  \foreach \c in {p1b1,p1b2,p1b3} \draw[link,cred] (\c.west) -- ++(-19,0) |- (p1b.east);
  \draw[link,cred] (p1b1a.west) -- ++(-19,0) |- (p1b1.east);
  \draw[link,cred] (p1b2a.west) -- ++(-19,0) |- (p1b2.east);

  \foreach \c in {p2a,p2b,p2c,p2d,p2e,p2f,p2g,p2h,p2i,p2j,p2k} \draw[link,corange] (\c.west) -- ++(-19,0) |- (p2.east);
  \foreach \c in {p2a1,p2a2} \draw[link,corange] (\c.west) -- ++(-19,0) |- (p2a.east);
  \foreach \c in {p2b1,p2b2,p2b3} \draw[link,corange] (\c.west) -- ++(-19,0) |- (p2b.east);
  \foreach \c in {p2c1,p2c2,p2c3,p2c4} \draw[link,corange] (\c.west) -- ++(-19,0) |- (p2c.east);
  \draw[link,corange] (p2c1a.west) -- ++(-19,0) |- (p2c1.east);
  \foreach \c in {p2d1,p2d2,p2d3,p2d4} \draw[link,corange] (\c.west) -- ++(-19,0) |- (p2d.east);
  \foreach \c in {p2e1,p2e2,p2e3} \draw[link,corange] (\c.west) -- ++(-19,0) |- (p2e.east);
  \foreach \c in {p2f1,p2f2,p2f3} \draw[link,corange] (\c.west) -- ++(-19,0) |- (p2f.east);
  \foreach \c in {p2g1,p2g2,p2g3} \draw[link,corange] (\c.west) -- ++(-19,0) |- (p2g.east);
  \foreach \c in {p2h1,p2h2,p2h3} \draw[link,corange] (\c.west) -- ++(-19,0) |- (p2h.east);
  \foreach \c in {p2i1,p2i2,p2i3,p2i4} \draw[link,corange] (\c.west) -- ++(-19,0) |- (p2i.east);
  \foreach \c in {p2j1,p2j2,p2j3,p2j4} \draw[link,corange] (\c.west) -- ++(-19,0) |- (p2j.east);
  \draw[link,corange] (p2j4a.west) -- ++(-19,0) |- (p2j4.east);
  \foreach \c in {p2j4a1,p2j4a2,p2j4a3} \draw[link,corange] (\c.west) -- ++(-19,0) |- (p2j4a.east);
  \foreach \c in {p2k1,p2k2,p2k3,p2k4} \draw[link,corange] (\c.west) -- ++(-19,0) |- (p2k.east);
  \draw[link,corange] (p2k4a.west) -- ++(-19,0) |- (p2k4.east);

  \foreach \c in {p3a,p3b,p3c,p3d,p3e,p3f} \draw[link,cyellow] (\c.west) -- ++(-19,0) |- (p3.east);
  \foreach \c in {p3a1,p3a2,p3a3,p3a4,p3a5} \draw[link,cyellow] (\c.west) -- ++(-19,0) |- (p3a.east);
  \draw[link,cyellow] (p3b1.west) -- ++(-19,0) |- (p3b.east);
  \foreach \c in {p3c1,p3c2,p3c3,p3c4} \draw[link,cyellow] (\c.west) -- ++(-19,0) |- (p3c.east);
  \foreach \c in {p3d1,p3d2,p3d3,p3d4} \draw[link,cyellow] (\c.west) -- ++(-19,0) |- (p3d.east);
  \foreach \c in {p3e1,p3e2,p3e3,p3e4} \draw[link,cyellow] (\c.west) -- ++(-19,0) |- (p3e.east);
  \foreach \c in {p3f1,p3f2,p3f3,p3f4} \draw[link,cyellow] (\c.west) -- ++(-19,0) |- (p3f.east);

  \foreach \c in {p4a,p4b,p4c,p4d,p4e,p4f,p4g} \draw[link,cteal] (\c.west) -- ++(-19,0) |- (p4.east);
  \draw[link,cteal] (p4a1.west) -- ++(-19,0) |- (p4a.east);
  \foreach \c in {p4b1,p4b2} \draw[link,cteal] (\c.west) -- ++(-19,0) |- (p4b.east);
  \foreach \c in {p4c1,p4c2,p4c3} \draw[link,cteal] (\c.west) -- ++(-19,0) |- (p4c.east);
  \foreach \c in {p4d1,p4d2} \draw[link,cteal] (\c.west) -- ++(-19,0) |- (p4d.east);
  \foreach \c in {p4e1,p4e2,p4e3,p4e4,p4e5} \draw[link,cteal] (\c.west) -- ++(-19,0) |- (p4e.east);
  \foreach \c in {p4f1,p4f2} \draw[link,cteal] (\c.west) -- ++(-19,0) |- (p4f.east);
  \draw[link,cteal] (p4g1.west) -- ++(-19,0) |- (p4g.east);

  % ---------------- connectors, left side ----------------
  \foreach \c in {p5a,p5b,p5c,p5d} \draw[link,cblue] (\c.east) -- ++(19,0) |- (p5.west);
  \foreach \c in {p5a1,p5a2,p5a3,p5a4,p5a5,p5a6,p5a7,p5a8,p5a9} \draw[link,cblue] (\c.east) -- ++(19,0) |- (p5a.west);
  \draw[link,cblue] (p5a6a.east) -- ++(19,0) |- (p5a6.west);
  \foreach \c in {p5a7a,p5a7b,p5a7c,p5a7d,p5a7e} \draw[link,cblue] (\c.east) -- ++(19,0) |- (p5a7.west);
  \foreach \c in {p5a8a,p5a8b,p5a8c,p5a8d,p5a8e,p5a8f,p5a8g,p5a8h} \draw[link,cblue] (\c.east) -- ++(19,0) |- (p5a8.west);
  \foreach \c in {p5a8h1,p5a8h2} \draw[link,cblue] (\c.east) -- ++(19,0) |- (p5a8h.west);
  \foreach \c in {p5b1,p5b2,p5b3,p5b4,p5b5} \draw[link,cblue] (\c.east) -- ++(19,0) |- (p5b.west);
  \foreach \c in {p5b4a,p5b4b,p5b4c,p5b4d} \draw[link,cblue] (\c.east) -- ++(19,0) |- (p5b4.west);
  \foreach \c in {p5c1,p5c2,p5c3,p5c4,p5c5,p5c6} \draw[link,cblue] (\c.east) -- ++(19,0) |- (p5c.west);
  \foreach \c in {p5c5a,p5c5b,p5c5c,p5c5d,p5c5e} \draw[link,cblue] (\c.east) -- ++(19,0) |- (p5c5.west);
  \foreach \c in {p5c6a,p5c6b,p5c6c,p5c6d,p5c6e,p5c6f} \draw[link,cblue] (\c.east) -- ++(19,0) |- (p5c6.west);
  \foreach \c in {p5d1,p5d2,p5d3} \draw[link,cblue] (\c.east) -- ++(19,0) |- (p5d.west);
  \foreach \c in {p5d3a,p5d3b,p5d3c} \draw[link,cblue] (\c.east) -- ++(19,0) |- (p5d3.west);

  \foreach \c in {p6a,p6b} \draw[link,cindigo] (\c.east) -- ++(19,0) |- (p6.west);
  \foreach \c in {p6a1,p6a2,p6a3,p6a4} \draw[link,cindigo] (\c.east) -- ++(19,0) |- (p6a.west);
  \foreach \c in {p6b1,p6b2} \draw[link,cindigo] (\c.east) -- ++(19,0) |- (p6b.west);
  \foreach \c in {p6b1a,p6b1b} \draw[link,cindigo] (\c.east) -- ++(19,0) |- (p6b1.west);
  \draw[link,cindigo] (p6b1a1.east) -- ++(19,0) |- (p6b1a.west);
  \foreach \c in {p6b1b1,p6b1b2,p6b1b3,p6b1b4,p6b1b5} \draw[link,cindigo] (\c.east) -- ++(19,0) |- (p6b1b.west);
  \foreach \c in {p6b1b4a,p6b1b4b} \draw[link,cindigo] (\c.east) -- ++(27,0) |- (p6b1b4.west);

  \foreach \c in {p7a,p7b} \draw[link,cred] (\c.east) -- ++(19,0) |- (p7.west);
  \foreach \c in {p7a1,p7a2,p7a3,p7a4,p7a5} \draw[link,cred] (\c.east) -- ++(19,0) |- (p7a.west);
  \foreach \c in {p7a4a,p7a4b,p7a4c,p7a4d,p7a4e,p7a4f,p7a4g,p7a4h,p7a4i,p7a4j,p7a4k} \draw[link,cred] (\c.east) -- ++(19,0) |- (p7a4.west);
  \draw[link,cred] (p7a4b1.east) -- ++(19,0) |- (p7a4b.west);
  \foreach \c in {p7b1,p7b2,p7b3,p7b4,p7b5} \draw[link,cred] (\c.east) -- ++(19,0) |- (p7b.west);
  \foreach \c in {p7b4a,p7b4b,p7b4c,p7b4d} \draw[link,cred] (\c.east) -- ++(19,0) |- (p7b4.west);
  \foreach \c in {p7b4b1,p7b4b2} \draw[link,cred] (\c.east) -- ++(19,0) |- (p7b4b.west);

  \foreach \c in {p8a,p8b} \draw[link,corange] (\c.east) -- ++(19,0) |- (p8.west);
  \foreach \c in {p8a1,p8a2,p8a3,p8a4} \draw[link,corange] (\c.east) -- ++(19,0) |- (p8a.west);
  \foreach \c in {p8b1,p8b2,p8b3,p8b4,p8b5,p8b6} \draw[link,corange] (\c.east) -- ++(19,0) |- (p8b.west);
  \foreach \c in {p8b4a,p8b4b,p8b4c,p8b4d,p8b4e,p8b4f} \draw[link,corange] (\c.east) -- ++(19,0) |- (p8b4.west);
  \foreach \c in {p8b5a,p8b5b,p8b5c,p8b5d,p8b5e,p8b5f} \draw[link,corange] (\c.east) -- ++(19,0) |- (p8b5.west);
  \draw[link,corange] (p8b6a.east) -- ++(19,0) |- (p8b6.west);

  \foreach \c in {p9a,p9b,p9c,p9d,p9e,p9f,p9g,p9h,p9i,p9j,p9k,p9l,p9m} \draw[link,cyellow] (\c.east) -- ++(19,0) |- (p9.west);
  \draw[link,cyellow] (p9a1.east) -- ++(19,0) |- (p9a.west);
  \foreach \c in {p9a1a,p9a1b,p9a1c,p9a1d} \draw[link,cyellow] (\c.east) -- ++(19,0) |- (p9a1.west);
  \foreach \c in {p9b1,p9b2} \draw[link,cyellow] (\c.east) -- ++(19,0) |- (p9b.west);
  \draw[link,cyellow] (p9c1.east) -- ++(19,0) |- (p9c.west);
  \draw[link,cyellow] (p9d1.east) -- ++(19,0) |- (p9d.west);
  \draw[link,cyellow] (p9f1.east) -- ++(19,0) |- (p9f.west);
  \draw[link,cyellow] (p9g1.east) -- ++(19,0) |- (p9g.west);
  \foreach \c in {p9h1,p9h2,p9h3} \draw[link,cyellow] (\c.east) -- ++(19,0) |- (p9h.west);
  \foreach \c in {p9i1,p9i2,p9i3} \draw[link,cyellow] (\c.east) -- ++(19,0) |- (p9i.west);
  \draw[link,cyellow] (p9j1.east) -- ++(19,0) |- (p9j.west);
  \foreach \c in {p9j1a,p9j1b,p9j1c} \draw[link,cyellow] (\c.east) -- ++(19,0) |- (p9j1.west);
  \draw[link,cyellow] (p9l1.east) -- ++(19,0) |- (p9l.west);
  \draw[link,cyellow] (p9m1.east) -- ++(19,0) |- (p9m.west);

  % relation arrow
  \draw[rel] (sum2.south) .. controls (1097,2000) and (1310,2000) .. (p7b5.north);

  % branches from the root
  \begin{scope}[on background layer]
    \fill[white] (0,0) rectangle (3514,7002);
    \draw[limb,cred] (p1.west) .. controls +(-70,0) and +(40,-2170) .. (ctr.center);
    \draw[limb,corange] (p2.west) .. controls +(-70,0) and +(40,-1350) .. (ctr.center);
    \draw[limb,cyellow] (p3.west) .. controls +(-70,0) and +(40,-230) .. (ctr.center);
    \draw[limb,cteal] (p4.west) .. controls +(-70,0) and +(40,510) .. (ctr.center);
    \draw[limb,cblue] (p5.east) .. controls +(70,0) and +(-40,700) .. (ctr.center);
    \draw[limb,cindigo] (p6.east) .. controls +(70,0) and +(-40,-560) .. (ctr.center);
    \draw[limb,cred] (p7.east) .. controls +(70,0) and +(-40,-1090) .. (ctr.center);
    \draw[limb,corange] (p8.east) .. controls +(70,0) and +(-40,-1830) .. (ctr.center);
    \draw[limb,cyellow] (p9.east) .. controls +(70,0) and +(-40,-2360) .. (ctr.center);
  \end{scope}
\end{tikzpicture}
\end{document}
